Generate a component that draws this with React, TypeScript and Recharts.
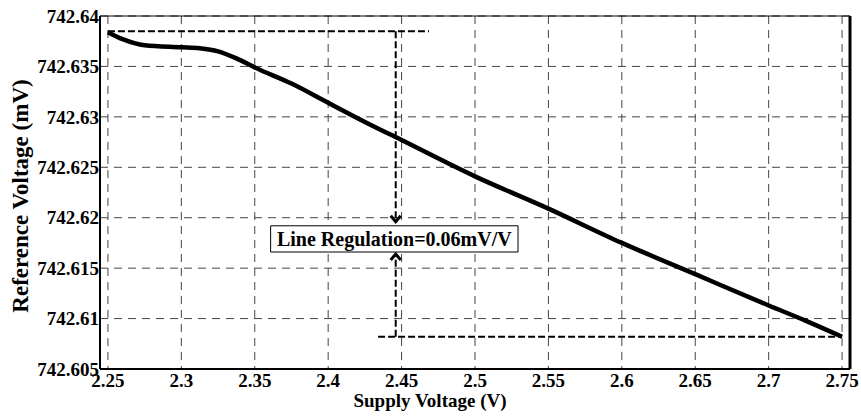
import React from "react";
import {
  LineChart,
  Line,
  XAxis,
  YAxis,
  CartesianGrid,
  ReferenceLine,
  ReferenceDot,
  ReferenceArea,
} from "recharts";

// supply sweep (V) and measured reference voltage (mV)
const supplyV = [2.25, 2.26, 2.275, 2.3, 2.3125, 2.325, 2.3375, 2.35, 2.375, 2.4, 2.425, 2.45, 2.5, 2.55, 2.6, 2.65, 2.7, 2.725, 2.75];
const refV = [
  742.6384, 742.6377, 742.6371, 742.6369, 742.6368, 742.6365, 742.6358, 742.6349, 742.6333, 742.6314,
  742.6295, 742.6277, 742.6241, 742.6209, 742.6175, 742.6144, 742.6113, 742.6098, 742.6082,
];

const xTicks = [2.25, 2.3, 2.35, 2.4, 2.45, 2.5, 2.55, 2.6, 2.65, 2.7, 2.75];
const xMinorTicks = [2.25, 2.275, 2.3, 2.325, 2.35, 2.375, 2.4, 2.425, 2.45, 2.475, 2.5, 2.525, 2.55, 2.575, 2.6, 2.625, 2.65, 2.675, 2.7, 2.725, 2.75];
const yTicks = [742.605, 742.61, 742.615, 742.62, 742.625, 742.63, 742.635, 742.64];

// annotation: line regulation markers
const regMaxV = 742.6385;
const regMinV = 742.6082;
const regX = 2.446;
const topArrowTip = 742.6196;
const bottomArrowTip = 742.6164;
const boxX = [2.3608, 2.5293];
const boxY = [742.6166, 742.6192];
const regLabel = "Line Regulation=0.06mV/V";

const data = supplyV.map((v, i) => ({ v, ref: refV[i] }));

const FONT = "'Liberation Serif', 'Times New Roman', serif";
const tickStyle = { fontSize: 19, fontWeight: 700, fill: "#000", fontFamily: FONT };
const annStroke = { stroke: "#000", strokeWidth: 2, strokeDasharray: "7 3" };

const ArrowDown = (p: any) => (
  <path d={`M${p.cx - 5},${p.cy - 6} L${p.cx},${p.cy} L${p.cx + 5},${p.cy - 6}`} stroke="#000" strokeWidth={3} fill="none" />
);
const ArrowUp = (p: any) => (
  <path d={`M${p.cx - 5},${p.cy + 6} L${p.cx},${p.cy} L${p.cx + 5},${p.cy + 6}`} stroke="#000" strokeWidth={3} fill="none" />
);

const fmtY = (v: number) => String(+v.toFixed(3));

export default function App() {
  return (
    <div style={{ position: "absolute", left: 0, top: 0, background: "#fff" }}>
      <LineChart width={861} height={416} data={data} margin={{ top: 16, right: 11, bottom: 0, left: 0 }}>
        <CartesianGrid stroke="#444" strokeDasharray="8 6" strokeWidth={1} />
        <XAxis
          dataKey="v"
          type="number"
          domain={[2.2446, 2.7554]}
          allowDataOverflow
          ticks={xTicks}
          interval={0}
          tickFormatter={(v) => String(v)}
          height={47}
          tickLine={false}
          tickSize={0}
          tickMargin={5}
          axisLine={{ stroke: "#000", strokeWidth: 2 }}
          tick={tickStyle}
          label={{
            content: () => (
              <text x={430} y={407} textAnchor="middle" style={{ fontSize: 19, fontWeight: 700, fontFamily: FONT }} fill="#000">
                Supply Voltage (V)
              </text>
            ),
          }}
        />
        <XAxis xAxisId="bt" dataKey="v" type="number" domain={[2.2446, 2.7554]} allowDataOverflow ticks={xMinorTicks} interval={0} mirror tick={false} tickSize={5} tickLine={{ stroke: "#000" }} axisLine={false} />
        <XAxis xAxisId="top" orientation="top" dataKey="v" type="number" domain={[2.2446, 2.7554]} allowDataOverflow ticks={xMinorTicks} interval={0} mirror tick={false} tickSize={5} tickLine={{ stroke: "#000" }} axisLine={{ stroke: "#000", strokeWidth: 1 }} />
        <YAxis
          type="number"
          domain={[742.605, 742.64]}
          allowDataOverflow
          ticks={yTicks}
          interval={0}
          tickFormatter={fmtY}
          width={100}
          tickLine={false}
          tickSize={0}
          tickMargin={1}
          axisLine={{ stroke: "#000", strokeWidth: 2 }}
          tick={tickStyle}
          label={{
            content: () => (
              <text x={28} y={196} transform="rotate(-90, 28, 196)" textAnchor="middle" style={{ fontSize: 23, fontWeight: 700, fontFamily: FONT }} fill="#000">
                Reference Voltage (mV)
              </text>
            ),
          }}
        />
        <YAxis yAxisId="lt" type="number" domain={[742.605, 742.64]} allowDataOverflow ticks={yTicks} interval={0} mirror tick={false} tickSize={4} tickLine={{ stroke: "#000" }} axisLine={false} />
        <YAxis yAxisId="right" orientation="right" type="number" domain={[742.605, 742.64]} allowDataOverflow ticks={yTicks} interval={0} mirror tick={false} tickSize={5} tickLine={{ stroke: "#000" }} axisLine={{ stroke: "#000", strokeWidth: 3 }} />

        <ReferenceLine segment={[{ x: supplyV[0], y: regMaxV }, { x: 2.4687, y: regMaxV }]} {...annStroke} />
        <ReferenceLine segment={[{ x: 2.434, y: regMinV }, { x: supplyV[supplyV.length - 1], y: regMinV }]} {...annStroke} />
        <ReferenceLine segment={[{ x: regX, y: regMaxV }, { x: regX, y: topArrowTip }]} {...annStroke} />
        <ReferenceLine segment={[{ x: regX, y: regMinV }, { x: regX, y: bottomArrowTip }]} {...annStroke} />
        <ReferenceDot x={regX} y={topArrowTip} shape={ArrowDown} />
        <ReferenceDot x={regX} y={bottomArrowTip} shape={ArrowUp} />
        <ReferenceArea
          x1={boxX[0]}
          x2={boxX[1]}
          y1={boxY[0]}
          y2={boxY[1]}
          fill="#fff"
          fillOpacity={1}
          stroke="#000"
          strokeWidth={1}
          label={{
            content: (p: any) => {
              const vb = p.viewBox;
              return (
                <text x={vb.x + vb.width / 2} y={vb.y + vb.height / 2} dy="0.35em" textAnchor="middle" style={{ fontSize: 20, fontWeight: 700, fontFamily: FONT }} fill="#000">
                  {regLabel}
                </text>
              );
            },
          }}
        />

        <Line type="monotone" dataKey="ref" stroke="#000" strokeWidth={4.5} dot={false} isAnimationActive={false} />
      </LineChart>
    </div>
  );
}
